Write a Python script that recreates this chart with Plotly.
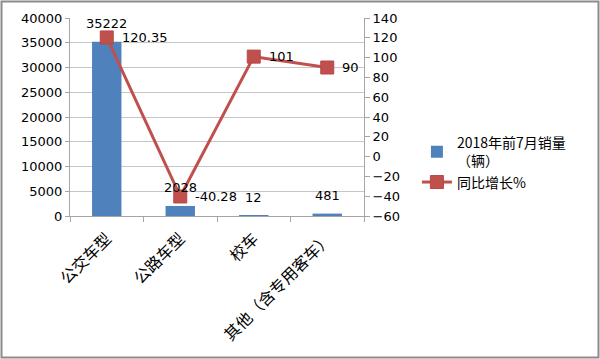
import plotly.graph_objects as go

categories = ["公交车型", "公路车型", "校车", "其他（含专用客车）"]
sales = [35222, 2028, 12, 481]
growth = [120.35, -40.28, 101, 90]
sales_name = "2018年前7月销量<br>（辆）"
growth_name = "同比增长%"

FONT = "DejaVu Sans, Noto Sans CJK SC, sans-serif"
CJK = "Noto Sans CJK SC, sans-serif"

fig = go.Figure()
fig.add_trace(go.Bar(
    x=categories, y=sales, name=sales_name,
    marker=dict(color="#4F81BD", line=dict(width=0)),
    width=0.4,
))
fig.add_trace(go.Scatter(
    x=categories, y=growth, name=growth_name, yaxis="y2",
    mode="lines+markers",
    line=dict(color="#C0504D", width=3),
    marker=dict(symbol="square", size=13, color="#C0504D",
                line=dict(color="#B84744", width=1)),
    cliponaxis=False,
))

annotations = []
for c, v in zip(categories, sales):
    annotations.append(dict(
        x=c, y=v, xref="x", yref="y", text=str(v), showarrow=False,
        xanchor="center", yanchor="bottom", yshift=9,
        font=dict(size=13, color="#000", family=FONT),
    ))
for c, v in zip(categories, growth):
    annotations.append(dict(
        x=c, y=v, xref="x", yref="y2", text=f"{v:g}", showarrow=False,
        xanchor="left", yanchor="middle", xshift=13,
        font=dict(size=13, color="#000", family=FONT),
    ))

pw = 294.0
ph = 198.0
fig.update_layout(
    width=600, height=359,
    margin=dict(l=70, r=236, t=18, b=143, autoexpand=False),
    paper_bgcolor="white", plot_bgcolor="white",
    font=dict(family=FONT, size=13, color="#000"),
    showlegend=True,
    bargap=0.6,
    annotations=annotations,
    legend=dict(x=1.18, y=0.27, xanchor="left", yanchor="middle",
                font=dict(family=CJK, size=14, color="#000"),
                bgcolor="rgba(0,0,0,0)", tracegroupgap=8, itemwidth=30),
    xaxis=dict(
        type="category", showgrid=False, automargin=False,
        showline=True, linecolor="#A6A6A6", linewidth=1,
        ticks="outside", tickson="boundaries", ticklen=5, tickcolor="#A6A6A6",
        ticklabelstandoff=6,
        tickangle=-45, tickfont=dict(family=CJK, size=16, color="#000"),
    ),
    yaxis=dict(
        range=[0, 40000], dtick=5000, showgrid=True, gridcolor="#C6C6C6",
        tickformat="d", automargin=False,
        showline=True, linecolor="#A6A6A6", ticks="outside", ticklen=4,
        tickcolor="#A6A6A6", zeroline=False,
        tickfont=dict(size=13, color="#000"),
    ),
    yaxis2=dict(
        range=[-60, 140], dtick=20, overlaying="y", side="right",
        automargin=False,
        showgrid=False, zeroline=False, showline=True, linecolor="#A6A6A6",
        ticks="outside", ticklen=5, tickcolor="#A6A6A6",
        tickfont=dict(size=13, color="#000"),
    ),
    shapes=[dict(
        type="rect", xref="paper", yref="paper",
        x0=(1.5 - 70) / pw, x1=(598.5 - 70) / pw,
        y0=(216 - 357.5) / ph, y1=(216 - 1.5) / ph,
        line=dict(color="#8C8C8C", width=2), fillcolor="rgba(0,0,0,0)",
        layer="below",
    )],
)

fig.write_html(
    "out.html",
    config={"displayModeBar": False},
    post_script="document.body.style.margin='0';document.body.style.overflow='hidden';",
)
